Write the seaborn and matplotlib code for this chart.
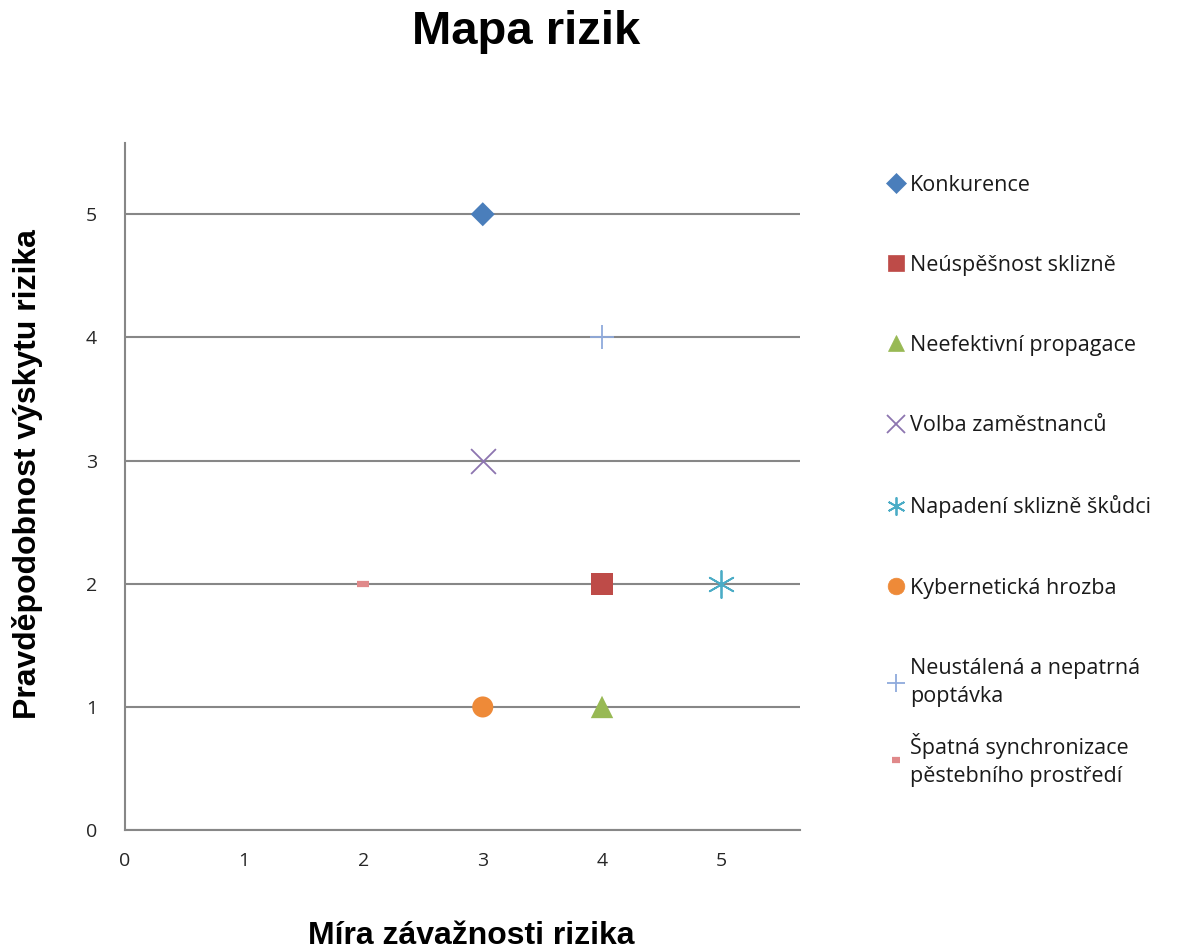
import matplotlib
matplotlib.use("Agg")
import matplotlib.pyplot as plt
import seaborn as sns
from matplotlib.lines import Line2D

# risk data: severity (x), probability (y)
risks = [
    "Konkurence",
    "Neúspěšnost sklizně",
    "Neefektivní propagace",
    "Volba zaměstnanců",
    "Napadení sklizně škůdci",
    "Kybernetická hrozba",
    "Neustálená a nepatrná\npoptávka",
    "Špatná synchronizace\npěstebního prostředí",
]
severity = [3, 4, 4, 3, 5, 3, 4, 2]
probability = [5, 2, 1, 3, 2, 1, 4, 2]

colors = ["#4A7EBB", "#BE4B48", "#98B954", "#8D75B0", "#4BACC6", "#EE8A38", "#8FAADC", "#E0898A"]
markers = ["D", "s", "^", "x", (6, 2, 0), "o", "+", "_"]
sizes = [150, 260, 260, 320, 380, 230, 300, 70]
mew = [0, 0, 0, 1.3, 1.3, 0, 1.3, 4.5]

sns.set_style("white")
plt.rcParams["font.family"] = ["Open Sans", "DejaVu Sans"]

fig = plt.figure(figsize=(11.78, 9.52), dpi=100)
ax = fig.add_axes([0.1061, 0.128, 0.573, 0.722])

for i, name in enumerate(risks):
    sns.scatterplot(x=[severity[i]], y=[probability[i]], ax=ax, marker=markers[i],
                    s=sizes[i], color=colors[i], linewidth=mew[i],
                    edgecolor=colors[i] if mew[i] else "none", zorder=3, legend=False)

ax.set_xlim(0, 5.66)
ax.set_ylim(0, 5.58)
ax.set_xticks(range(6))
ax.set_yticks(range(6))
ax.yaxis.grid(True, color="#878787", linewidth=1.5)
ax.xaxis.grid(False)
for s in ["top", "right"]:
    ax.spines[s].set_visible(False)
for s in ["left", "bottom"]:
    ax.spines[s].set_color("#878787")
    ax.spines[s].set_linewidth(1.5)
ax.tick_params(axis="both", direction="out", length=6, width=1.2, color="#878787",
               labelsize=14, labelcolor="#262626")
ax.tick_params(axis="y", pad=14)
ax.tick_params(axis="x", pad=10)

lab_font = ["Liberation Sans", "DejaVu Sans"]
ax.set_xlabel("Míra závažnosti rizika", fontsize=23, fontweight="bold",
              family=lab_font, color="black")
ax.set_ylabel("Pravděpodobnost výskytu rizika", fontsize=23, fontweight="bold",
              family=lab_font, color="black")
ax.xaxis.set_label_coords(0.513, -0.132)
ax.yaxis.set_label_coords(-0.122, 0.518)
fig.suptitle("Mapa rizik", fontsize=34, fontweight="bold", x=0.447,
             family=lab_font, y=0.99, color="black")

handles = []
for i, name in enumerate(risks):
    handles.append(Line2D([], [], linestyle="none", marker=markers[i], color=colors[i],
                          markersize=[10, 12, 12, 13, 13, 12, 13, 6][i],
                          markeredgewidth=mew[i] if mew[i] else 0.5,
                          markeredgecolor=colors[i]))

# legend in two blocks: the last entry sits closer to the one above it
leg_kw = dict(loc="upper left", frameon=False, fontsize=15.5, labelspacing=2.75,
              handlelength=0.9, handletextpad=0.2, borderpad=0)
leg1 = fig.legend(handles[:7], risks[:7], bbox_to_anchor=(0.743, 0.828), **leg_kw)
leg2 = fig.legend(handles[7:], risks[7:], bbox_to_anchor=(0.743, 0.2415), **leg_kw)
for leg in (leg1, leg2):
    for t in leg.get_texts():
        t.set_color("#1a1a1a")
        t.set_linespacing(1.45)

fig.savefig("out.png", dpi=100)
